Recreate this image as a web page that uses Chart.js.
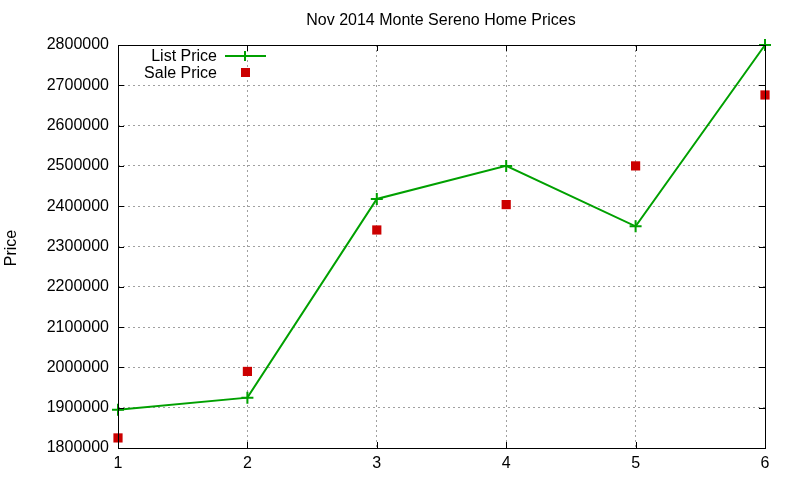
<!DOCTYPE html>
<html><head><meta charset="utf-8">
<script src="https://cdn.jsdelivr.net/npm/chart.js@4.4.0/dist/chart.umd.min.js"></script>
<style>html,body{margin:0;padding:0;background:#fff}#wrap{width:800px;height:480px}</style>
</head><body><div id="wrap"><canvas id="c" width="800" height="480"></canvas></div>
<script>
const categories = [1, 2, 3, 4, 5, 6];
const listPrice = [1895000, 1925000, 2418000, 2500000, 2350000, 2800000];
const salePrice = [1825000, 1990000, 2341000, 2404000, 2500000, 2676000];
const yTicks = [1800000, 1900000, 2000000, 2100000, 2200000, 2300000, 2400000, 2500000, 2600000, 2700000, 2800000];
const seriesNames = ['List Price', 'Sale Price'];
const titleText = 'Nov 2014 Monte Sereno Home Prices';
const yTitle = 'Price';

const FONT = '"Liberation Sans", Arial, sans-serif';
const GREEN = '#00a000';
const RED = '#cc0000';

const framePlugin = {
  id: 'frame',
  afterDraw(chart) {
    const ctx = chart.ctx, a = chart.chartArea;
    const xs = chart.scales.x, ys = chart.scales.y;
    ctx.save();
    ctx.strokeStyle = '#000'; ctx.lineWidth = 1;
    ctx.beginPath();
    yTicks.forEach(v => {
      const y = Math.round(ys.getPixelForValue(v)) + 0.5;
      ctx.moveTo(a.left, y); ctx.lineTo(a.left + 6, y);
      ctx.moveTo(a.right, y); ctx.lineTo(a.right - 6, y);
    });
    categories.forEach(v => {
      const x = Math.round(xs.getPixelForValue(v)) + 0.5;
      ctx.moveTo(x, a.bottom); ctx.lineTo(x, a.bottom - 6);
      ctx.moveTo(x, a.top); ctx.lineTo(x, a.top + 6);
    });
    ctx.stroke();
    ctx.strokeRect(Math.round(a.left) + 0.5, Math.round(a.top) + 0.5, Math.round(a.right - a.left), Math.round(a.bottom - a.top));
    // title
    ctx.fillStyle = '#000';
    ctx.font = '16px ' + FONT;
    ctx.textAlign = 'center'; ctx.textBaseline = 'middle';
    ctx.fillText(titleText, 441, 21);
    // y title
    ctx.save();
    ctx.translate(12, 248);
    ctx.rotate(-Math.PI / 2);
    ctx.font = '16px ' + FONT;
    ctx.fillText(yTitle, 0, 0);
    ctx.restore();
    // legend
    ctx.font = '16px ' + FONT;
    ctx.textAlign = 'right';
    const ds = chart.data.datasets;
    ctx.fillText(ds[0].label, 217, 56.5);
    ctx.fillText(ds[1].label, 217, 73.5);
    ctx.strokeStyle = ds[0].borderColor; ctx.lineWidth = 2;
    ctx.beginPath(); ctx.moveTo(225, 56); ctx.lineTo(266, 56);
    ctx.moveTo(245, 51); ctx.lineTo(245, 61);
    ctx.stroke();
    ctx.fillStyle = ds[1].backgroundColor;
    ctx.fillRect(241, 68, 9, 9);
    ctx.restore();
  }
};

new Chart(document.getElementById('c'), {
  type: 'line',
  data: {
    datasets: [
      {
        label: seriesNames[0],
        data: categories.map((c, i) => ({x: c, y: listPrice[i]})),
        borderColor: GREEN, backgroundColor: GREEN,
        borderWidth: 2, pointStyle: 'cross', pointRadius: 6, pointBorderWidth: 2,
        tension: 0, clip: false, fill: false
      },
      {
        label: seriesNames[1],
        data: categories.map((c, i) => ({x: c, y: salePrice[i]})),
        borderColor: RED, backgroundColor: RED,
        showLine: false, pointStyle: 'rect', pointRadius: 6.5, pointBorderWidth: 0,
        clip: false
      }
    ]
  },
  options: {
    responsive: false, animation: false, devicePixelRatio: 1,
    layout: {padding: {left: 0, right: 35, top: 45, bottom: 0}},
    plugins: {legend: {display: false}, title: {display: false}, tooltip: {enabled: false}},
    scales: {
      x: {
        type: 'linear', min: 1, max: 6,
        afterFit(s) { s.height = 32; },
        afterBuildTicks(s) { s.ticks = categories.map(v => ({value: v})); },
        grid: {color: '#a0a0a0', lineWidth: 1, drawTicks: false},
        border: {display: false, dash: [2, 3]},
        ticks: {color: '#000', font: {family: FONT, size: 16}, padding: 6}
      },
      y: {
        type: 'linear', min: 1800000, max: 2800000,
        afterFit(s) { s.width = 118; },
        afterBuildTicks(s) { s.ticks = yTicks.map(v => ({value: v})); },
        grid: {color: '#a0a0a0', lineWidth: 1, drawTicks: false},
        border: {display: false, dash: [2, 3]},
        ticks: {color: '#000', font: {family: FONT, size: 16}, padding: 9, callback: v => String(v)}
      }
    }
  },
  plugins: [framePlugin]
});
</script></body></html>
